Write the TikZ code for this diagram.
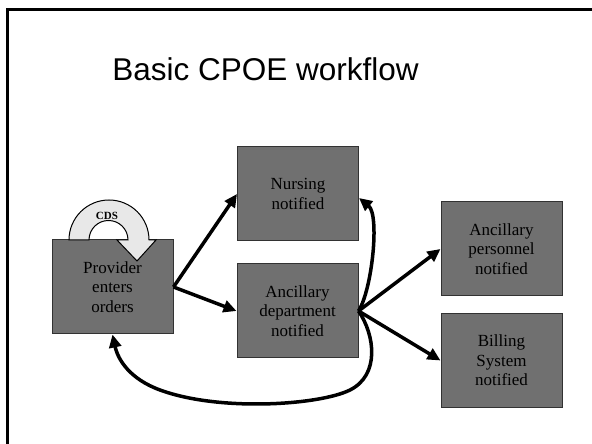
\documentclass[tikz,border=0pt]{standalone}
\usepackage{fontspec}
\setmainfont{Liberation Serif}
\newfontfamily\titlefont{Liberation Sans}
\usetikzlibrary{arrows.meta}
\definecolor{boxfill}{RGB}{112,112,112}
\definecolor{boxline}{RGB}{50,50,50}
\definecolor{cdsfill}{RGB}{232,232,232}
\tikzset{
  stepbox/.style={draw=boxline, line width=1pt, fill=boxfill, minimum width=121pt, minimum height=94pt, inner sep=0pt, align=center, text=black, font=\fontsize{17}{19.5}\selectfont},
  conn/.style={line width=3.5pt, -{Triangle[length=13pt,width=12pt]}},
}
\begin{document}
\begin{tikzpicture}[x=1pt,y=1pt]
\useasboundingbox (0,0) rectangle (592,444);
\clip (0,0) rectangle (592,444);
\fill[white] (0,0) rectangle (592,444);
\draw[line width=3pt] (7,-30) -- (7,434) -- (640,434);
\node[font=\titlefont\fontsize{31.5}{36}\selectfont] (title) at (265.5,375) {Basic CPOE workflow};
\node[stepbox] (prov) at (112.5,157) {Provider\\enters\\orders};
\node[stepbox] (nurse) at (298,250) {Nursing\\notified};
\node[stepbox] (anc) at (297.5,133) {Ancillary\\department\\notified};
\node[stepbox] (pers) at (501.5,195) {Ancillary\\personnel\\notified};
\node[stepbox] (bill) at (501.5,83.5) {Billing\\System\\notified};
% CDS curved arrow
\draw[fill=cdsfill, line width=1pt, line join=miter] (69,204) arc[start angle=180, end angle=0, radius=40] -- (156,204) -- (137,183) -- (117,204) -- (128,204) arc[start angle=0, end angle=180, radius=19.5] -- cycle;
\node[font=\bfseries\fontsize{11}{12}\selectfont, text=black] (cds) at (107,228) {CDS};
% connectors
\draw[conn] (prov.east) -- (nurse.west);
\draw[conn] (prov.east) -- (anc.west);
\draw[conn] (anc.east) -- (pers.west);
\draw[conn] (anc.east) -- (bill.west);
\draw[conn] (anc.east) .. controls (372,154) and (380,229) .. ([yshift=-4pt]nurse.east);
\draw[conn] (anc.east) .. controls (375,109) and (380,69) .. (350,54) .. controls (320,39) and (220,32) .. (160,54) .. controls (130,65) and (118,84) .. (prov.south);
\end{tikzpicture}
\end{document}
